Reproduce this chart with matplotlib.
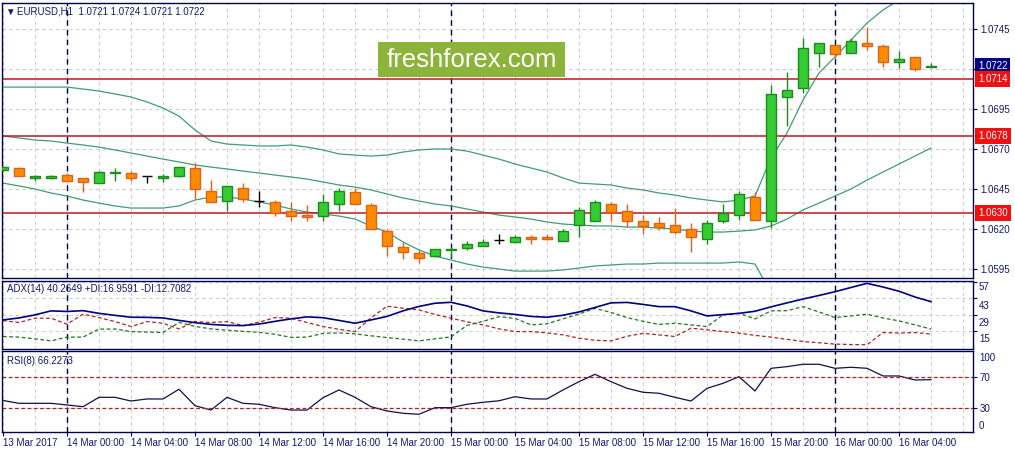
import matplotlib
matplotlib.use('Agg')
import numpy as np
import matplotlib.pyplot as plt
import matplotlib.transforms as mtransforms
from matplotlib.patches import Rectangle

plt.rcParams['font.family'] = ['Liberation Sans', 'DejaVu Sans']

# EURUSD H1, 13 Mar 20:00 .. 16 Mar 06:00
opens = [1.06566, 1.06579, 1.06517, 1.06520, 1.06538, 1.06517, 1.06485, 1.06550, 1.06548, 1.06531,
         1.06517, 1.06533, 1.06579, 1.06437, 1.06377, 1.06454, 1.06377, 1.06367, 1.06314, 1.06288,
         1.06283, 1.06354, 1.06429, 1.06350, 1.06188, 1.06086, 1.06048, 1.06033, 1.06067, 1.06083,
         1.06096, 1.06131, 1.06117, 1.06148, 1.06148, 1.06125, 1.06223, 1.06252, 1.06356, 1.06314,
         1.06250, 1.06235, 1.06225, 1.06198, 1.06136, 1.06250, 1.06288, 1.06402, 1.06250, 1.07027,
         1.07079, 1.07298, 1.07350, 1.07298, 1.07365, 1.07344, 1.07246, 1.07273, 1.07210]
highs = [1.06594, 1.06590, 1.06538, 1.06538, 1.06550, 1.06517, 1.06565, 1.06579, 1.06565, 1.06531,
         1.06544, 1.06590, 1.06614, 1.06506, 1.06469, 1.06490, 1.06437, 1.06381, 1.06367, 1.06350,
         1.06419, 1.06454, 1.06458, 1.06361, 1.06200, 1.06117, 1.06069, 1.06073, 1.06090, 1.06127,
         1.06138, 1.06169, 1.06163, 1.06163, 1.06169, 1.06200, 1.06338, 1.06381, 1.06371, 1.06356,
         1.06288, 1.06273, 1.06329, 1.06236, 1.06256, 1.06356, 1.06438, 1.06430, 1.07100, 1.07183,
         1.07396, 1.07360, 1.07350, 1.07392, 1.07465, 1.07354, 1.07312, 1.07273, 1.07240]
lows = [1.06560, 1.06531, 1.06502, 1.06510, 1.06502, 1.06433, 1.06485, 1.06502, 1.06502, 1.06486,
        1.06496, 1.06527, 1.06386, 1.06367, 1.06314, 1.06367, 1.06336, 1.06281, 1.06250, 1.06252,
        1.06250, 1.06314, 1.06354, 1.06198, 1.06033, 1.06013, 1.05986, 1.06023, 1.06027, 1.06069,
        1.06096, 1.06104, 1.06117, 1.06104, 1.06131, 1.06125, 1.06152, 1.06252, 1.06252, 1.06210,
        1.06167, 1.06194, 1.06169, 1.06054, 1.06104, 1.06236, 1.06256, 1.06256, 1.06204, 1.06844,
        1.07048, 1.07214, 1.07267, 1.07298, 1.07319, 1.07214, 1.07208, 1.07190, 1.07210]
closes = [1.06587, 1.06531, 1.06531, 1.06531, 1.06502, 1.06496, 1.06554, 1.06554, 1.06517, 1.06531,
          1.06531, 1.06586, 1.06448, 1.06367, 1.06469, 1.06386, 1.06377, 1.06302, 1.06281, 1.06277,
          1.06367, 1.06437, 1.06354, 1.06198, 1.06096, 1.06054, 1.06021, 1.06073, 1.06073, 1.06104,
          1.06117, 1.06131, 1.06152, 1.06136, 1.06136, 1.06188, 1.06317, 1.06367, 1.06304, 1.06252,
          1.06221, 1.06215, 1.06183, 1.06148, 1.06236, 1.06302, 1.06417, 1.06256, 1.07042, 1.07069,
          1.07329, 1.07360, 1.07292, 1.07375, 1.07346, 1.07242, 1.07260, 1.07198, 1.07220]

bb_upper = [1.07087, 1.07087, 1.07087, 1.07087, 1.07087, 1.07075, 1.07062, 1.07044, 1.07025, 1.06994,
            1.06956, 1.06906, 1.06819, 1.06750, 1.06731, 1.06725, 1.06719, 1.06719, 1.06725, 1.06712,
            1.06694, 1.06669, 1.06662, 1.06656, 1.06662, 1.06681, 1.06694, 1.06700, 1.06700, 1.06687,
            1.06662, 1.06637, 1.06606, 1.06581, 1.06556, 1.06519, 1.06487, 1.06481, 1.06475, 1.06456,
            1.06444, 1.06425, 1.06412, 1.06394, 1.06381, 1.06369, 1.06381, 1.06406, 1.06644, 1.06800,
            1.07006, 1.07175, 1.07275, 1.07381, 1.07487, 1.07569, 1.07631, 1.07694, 1.07744]
bb_middle = [1.06781, 1.06769, 1.06756, 1.06750, 1.06737, 1.06725, 1.06712, 1.06694, 1.06675, 1.06656,
             1.06637, 1.06619, 1.06600, 1.06587, 1.06575, 1.06562, 1.06550, 1.06537, 1.06525, 1.06512,
             1.06494, 1.06475, 1.06462, 1.06444, 1.06419, 1.06394, 1.06375, 1.06356, 1.06344, 1.06325,
             1.06306, 1.06287, 1.06275, 1.06262, 1.06244, 1.06231, 1.06225, 1.06219, 1.06219, 1.06212,
             1.06212, 1.06206, 1.06200, 1.06187, 1.06181, 1.06181, 1.06187, 1.06194, 1.06219, 1.06262,
             1.06319, 1.06362, 1.06406, 1.06450, 1.06506, 1.06556, 1.06606, 1.06656, 1.06706]
bb_lower = [1.06487, 1.06469, 1.06450, 1.06425, 1.06406, 1.06381, 1.06362, 1.06344, 1.06331, 1.06331,
            1.06331, 1.06344, 1.06381, 1.06400, 1.06400, 1.06387, 1.06369, 1.06350, 1.06325, 1.06306,
            1.06294, 1.06281, 1.06262, 1.06219, 1.06181, 1.06119, 1.06069, 1.06031, 1.06006, 1.05981,
            1.05962, 1.05950, 1.05937, 1.05937, 1.05937, 1.05944, 1.05956, 1.05969, 1.05975, 1.05981,
            1.05981, 1.05987, 1.05987, 1.05987, 1.05987, 1.05987, 1.05994, 1.05981, 1.05800, 1.05725,
            1.05631, 1.05550, 1.05537, 1.05519, 1.05525, 1.05544, 1.05569, 1.05619, 1.05644]

adx = [24.7, 26.4, 29.0, 32.4, 31.9, 32.6, 30.3, 28.6, 27.0, 26.9,
       26.4, 24.3, 22.4, 20.9, 20.1, 19.9, 21.2, 23.5, 25.6, 27.3,
       26.6, 24.3, 21.9, 24.7, 27.7, 32.4, 36.2, 38.9, 39.7, 36.6,
       32.4, 30.7, 29.4, 27.7, 27.0, 28.7, 31.5, 35.3, 39.2, 39.6,
       37.9, 36.0, 36.0, 32.4, 28.1, 29.2, 30.3, 32.1, 35.8, 39.2,
       42.5, 45.5, 48.7, 52.3, 55.8, 52.7, 49.1, 44.2, 40.26]
plus_di = [10.6, 10.1, 8.6, 6.9, 10.1, 10.1, 16.9, 17.0, 14.8, 14.4,
           14.0, 22.6, 19.2, 17.1, 16.0, 15.0, 14.2, 12.5, 9.9, 10.1,
           13.3, 13.7, 12.9, 11.2, 9.7, 8.4, 6.9, 8.6, 10.3, 20.1,
           23.5, 27.5, 26.0, 20.5, 21.4, 25.6, 29.8, 34.5, 31.1, 26.7,
           23.5, 20.9, 21.9, 20.5, 19.1, 29.0, 30.4, 25.6, 32.4, 32.6,
           36.0, 31.5, 26.7, 28.1, 29.6, 26.4, 23.9, 20.5, 16.96]
minus_di = [24.2, 22.5, 26.2, 26.2, 21.1, 29.6, 26.7, 23.3, 19.1, 23.3,
            21.9, 17.1, 23.3, 22.5, 23.3, 19.9, 22.8, 26.7, 26.2, 22.5,
            19.1, 16.7, 14.8, 26.4, 36.4, 34.7, 33.2, 29.4, 26.2, 23.1,
            20.5, 17.1, 14.8, 14.8, 13.7, 12.0, 9.2, 7.4, 6.9, 10.8,
            13.3, 12.0, 10.6, 17.7, 16.3, 14.8, 13.5, 11.6, 10.1, 8.2,
            6.4, 5.3, 4.2, 3.8, 3.6, 14.0, 13.5, 14.0, 12.71]
rsi = [39.9, 36.3, 36.3, 36.3, 34.2, 32.0, 43.9, 43.9, 39.2, 41.8,
       41.8, 54.1, 33.3, 27.8, 43.9, 36.3, 35.1, 30.8, 27.8, 27.8,
       43.4, 53.2, 43.9, 32.0, 26.6, 23.7, 22.4, 30.8, 30.8, 35.1,
       37.6, 39.5, 44.7, 41.8, 41.8, 53.2, 63.7, 73.0, 63.7, 55.3,
       50.3, 49.0, 43.9, 39.2, 55.3, 61.6, 70.0, 51.9, 80.6, 82.7,
       85.7, 85.7, 80.6, 81.9, 80.6, 70.9, 70.9, 65.8, 66.23]

levels = [1.0714, 1.0678, 1.0630]
last_price = 1.0722
price_ticks = [1.0745, 1.0720, 1.0695, 1.0670, 1.0645, 1.0620, 1.0595]
price_labels = ['1.0745', '', '1.0695', '1.0670', '1.0645', '1.0620', '1.0595']
adx_ticks = [57, 43, 29, 15]
rsi_levels = [70, 30]
day_starts = [4, 28, 52]
tick_labels = ['13 Mar 2017', '14 Mar 00:00', '14 Mar 04:00', '14 Mar 08:00', '14 Mar 12:00',
               '14 Mar 16:00', '14 Mar 20:00', '15 Mar 00:00', '15 Mar 04:00', '15 Mar 08:00',
               '15 Mar 12:00', '15 Mar 16:00', '15 Mar 20:00', '16 Mar 00:00', '16 Mar 04:00']

navy = '#16166e'
frame = '#000050'
grid_c = '#cdcdcd'
up_fill, up_edge = '#33cc33', '#1e8a1e'
dn_fill, dn_edge = '#ff8c00', '#e0601a'
band_c = '#3f9e70'
lvl_c = '#c8141e'

W, H = 1015, 453
fig = plt.figure(figsize=(W / 100, H / 100), dpi=100)


def box(l, t, r, b):
    return [l / W, 1 - b / H, (r - l) / W, (b - t) / H]


ax = fig.add_axes(box(2, 3, 973, 278))
ax_adx = fig.add_axes(box(2, 281, 973, 349), sharex=ax)
ax_rsi = fig.add_axes(box(2, 351, 973, 432), sharex=ax)

x = np.arange(len(opens))
bw = 0.62

for a in (ax, ax_adx, ax_rsi):
    for s in a.spines.values():
        s.set_color(frame)
        s.set_linewidth(1.0)
    a.yaxis.tick_right()
    a.set_xticks(np.arange(0, 61, 2), minor=True)
    a.set_xticks(np.arange(0, 57, 4))
    a.grid(True, which='both', axis='x', color=grid_c, ls=(0, (3, 3)), lw=0.8)
    a.grid(True, which='major', axis='y', color=grid_c, ls=(0, (3, 3)), lw=0.8)
    a.set_axisbelow(True)
    a.tick_params(axis='x', which='both', length=0, labelbottom=False)
    a.tick_params(axis='y', colors=frame, labelcolor=navy, labelsize=7, length=3, pad=2)
    for d in day_starts:
        a.axvline(d, color=frame, ls=(0, (4, 3)), lw=1.0, zorder=1)

ax.set_xlim(-0.0625, 60.625)

# свечи
for i in x:
    o, h, l, c = opens[i], highs[i], lows[i], closes[i]
    if c > o:
        fc, ec = up_fill, up_edge
    elif c < o:
        fc, ec = dn_fill, dn_edge
    else:
        fc, ec = None, 'black'
    ax.vlines(i, l, h, color=ec, lw=1.0, zorder=3)
    if fc is None:
        ax.hlines(o, i - bw / 2, i + bw / 2, color=ec, lw=1.0, zorder=4)
    else:
        ax.add_patch(Rectangle((i - bw / 2, min(o, c)), bw, abs(c - o),
                               facecolor=fc, edgecolor=ec, lw=1.0, zorder=4))

# полосы Боллинджера
for band in (bb_upper, bb_middle, bb_lower):
    ax.plot(x, band, color=band_c, lw=0.9, zorder=2)

for lv in levels:
    ax.axhline(lv, color=lvl_c, lw=1.1, zorder=2)

ax.set_ylim(1.0589375, 1.076125)
ax.set_yticks(price_ticks)
ax.set_yticklabels(price_labels)

lab_tr = mtransforms.offset_copy(ax.get_yaxis_transform(), fig=fig, x=5, units='dots')
ax.text(1, last_price, f'{last_price:.4f}', transform=lab_tr, ha='left', va='center',
        fontsize=7, color='white', bbox=dict(boxstyle='square,pad=0.3', fc='#000080', ec='none'))
for lv in levels:
    ax.text(1, lv, f'{lv:.4f}', transform=lab_tr, ha='left', va='center',
            fontsize=7, color='white', bbox=dict(boxstyle='square,pad=0.3', fc='#ee1111', ec='none'))

# ADX
ax_adx.plot(x, minus_di, color='#b22222', lw=0.9, ls=(0, (3, 2)))
ax_adx.plot(x, plus_di, color='#1e7a1e', lw=0.9, ls=(0, (3, 2)))
ax_adx.plot(x, adx, color='#000080', lw=1.2)
ax_adx.set_ylim(0, 57.8)
ax_adx.set_yticks(adx_ticks)
ax_adx.set_yticklabels([])
for v in adx_ticks:
    dy = -5 if v == adx_ticks[0] else -8
    tr = mtransforms.offset_copy(ax_adx.get_yaxis_transform(), fig=fig, x=6, y=dy, units='dots')
    ax_adx.text(1, v, str(v), transform=tr, ha='left', va='center', fontsize=7, color=navy)

# RSI
ax_rsi.plot(x, rsi, color='#10104a', lw=0.9)
for lv in rsi_levels:
    ax_rsi.axhline(lv, color='#b22222', lw=0.9, ls=(0, (3, 2)))
ax_rsi.set_ylim(0, 102.5)
ax_rsi.set_yticks(rsi_levels)
ax_rsi.set_yticklabels([str(v) for v in rsi_levels])
for v, dy in ((100, -5), (0, 6)):
    tr = mtransforms.offset_copy(ax_rsi.get_yaxis_transform(), fig=fig, x=6, y=dy, units='dots')
    ax_rsi.text(1, v, str(v), transform=tr, ha='left', va='center', fontsize=7, color=navy)

ax_rsi.tick_params(axis='x', which='major', length=3, labelbottom=True, labelsize=7,
                   colors=frame, labelcolor=navy, pad=1.5)
ax_rsi.set_xticklabels(tick_labels)
for t in ax_rsi.get_xticklabels():
    t.set_ha('left')

# заголовки
fig.text(5 / W, 1 - 11.5 / H, '▼', fontsize=7, color=navy, va='center', ha='left')
fig.text(17 / W, 1 - 11.7 / H, 'EURUSD,H1  1.0721 1.0724 1.0721 1.0722',
         fontsize=7, color=navy, va='center', ha='left')
fig.text(7 / W, 1 - 288.5 / H, 'ADX(14) 40.2649 +DI:16.9591 -DI:12.7082',
         fontsize=7, color=navy, va='center', ha='left')
fig.text(7 / W, 1 - 360.5 / H, 'RSI(8) 66.2273', fontsize=7, color=navy, va='center', ha='left')

# водяной знак
fig.add_artist(Rectangle((378 / W, 1 - 77 / H), 187 / W, 35 / H, transform=fig.transFigure,
                         facecolor='#8cb33a', edgecolor='none', zorder=10))
fig.text(471.5 / W, 1 - 60 / H, 'freshforex.com', fontsize=18.5, color='white',
         ha='center', va='center', zorder=11)

fig.savefig('out.png', dpi=100)
